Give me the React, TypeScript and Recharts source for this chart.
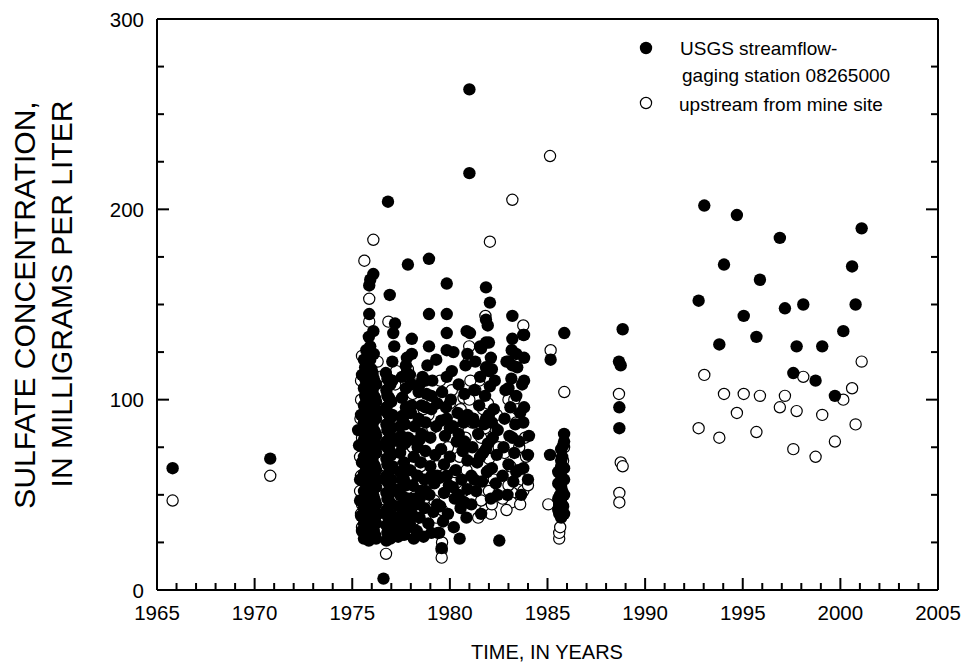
import React from 'react';
import { ScatterChart, Scatter, XAxis, YAxis, Legend } from 'recharts';

// ---- tick labels ----
const yearTicks = [1965, 1966, 1967, 1968, 1969, 1970, 1971, 1972, 1973, 1974, 1975, 1976, 1977, 1978, 1979, 1980, 1981, 1982, 1983, 1984, 1985, 1986, 1987, 1988, 1989, 1990, 1991, 1992, 1993, 1994, 1995, 1996, 1997, 1998, 1999, 2000, 2001, 2002, 2003, 2004, 2005];
const sulfateTicks = [0, 25, 50, 75, 100, 125, 150, 175, 200, 225, 250, 275, 300];

// ---- USGS streamflow-gaging station 08265000 (filled) : [year, mg/L] ----
const gaugeEarly = [[1965.8, 64], [1970.8, 69]];
const gauge1975 = [
  [1975.3, 84], [1975.35, 76], [1975.4, 58], [1975.4, 47], [1975.45, 39], [1975.45, 92], [1975.5, 31], [1975.5, 67], [1975.5, 113],
  [1975.6, 27], [1975.6, 35], [1975.6, 43], [1975.6, 52], [1975.6, 61], [1975.6, 70], [1975.6, 79], [1975.6, 88], [1975.6, 97], [1975.6, 106], [1975.6, 121],
  [1975.72, 29], [1975.72, 38], [1975.72, 46], [1975.72, 55], [1975.72, 64], [1975.72, 73], [1975.72, 82], [1975.72, 91], [1975.72, 100], [1975.72, 109], [1975.72, 118], [1975.72, 126],
  [1975.85, 26], [1975.85, 33], [1975.85, 41], [1975.85, 50], [1975.85, 59], [1975.85, 68], [1975.85, 77], [1975.85, 86], [1975.85, 95], [1975.85, 103], [1975.85, 112], [1975.85, 133], [1975.87, 145], [1975.87, 160],
  [1975.98, 28], [1975.98, 36], [1975.98, 44], [1975.98, 53], [1975.98, 62], [1975.98, 71], [1975.98, 80], [1975.98, 89], [1975.98, 98], [1975.98, 107], [1975.98, 116], [1975.92, 163], [1976.08, 166], [1976.08, 136],
  [1976.1, 31], [1976.1, 40], [1976.1, 49], [1976.1, 57], [1976.1, 66], [1976.1, 75], [1976.1, 84], [1976.1, 93], [1976.1, 102], [1976.1, 111], [1976.1, 124],
  [1976.22, 27], [1976.22, 35], [1976.22, 45], [1976.22, 54], [1976.22, 63], [1976.22, 72], [1976.22, 81], [1976.22, 90], [1976.22, 99], [1976.22, 108],
];
const gauge1975b = [
  [1975.66, 31], [1975.66, 40], [1975.66, 48], [1975.66, 57], [1975.66, 66], [1975.66, 75], [1975.66, 84], [1975.66, 93], [1975.66, 102], [1975.66, 111], [1975.66, 117],
  [1975.79, 27], [1975.79, 36], [1975.79, 45], [1975.79, 54], [1975.79, 63], [1975.79, 72], [1975.79, 81], [1975.79, 90], [1975.79, 99], [1975.79, 108], [1975.79, 120],
  [1975.92, 30], [1975.92, 39], [1975.92, 48], [1975.92, 57], [1975.92, 66], [1975.92, 75], [1975.92, 84], [1975.92, 93], [1975.92, 101], [1975.92, 110], [1975.92, 121], [1975.92, 128],
  [1976.04, 33], [1976.04, 42], [1976.04, 51], [1976.04, 60], [1976.04, 69], [1976.04, 78], [1976.04, 87], [1976.04, 96], [1976.04, 105], [1976.04, 114],
  [1976.16, 29], [1976.16, 38], [1976.16, 47], [1976.16, 56], [1976.16, 65], [1976.16, 74], [1976.16, 83], [1976.16, 92], [1976.16, 101], [1976.16, 109],
  [1976.3, 40], [1976.3, 58], [1976.3, 76], [1976.3, 94],
];
const gauge1976 = [
  [1976.6, 6], [1976.75, 26], [1976.75, 34], [1976.75, 42], [1976.75, 51], [1976.75, 60], [1976.75, 69], [1976.75, 78], [1976.75, 87], [1976.75, 96], [1976.75, 105], [1976.72, 114],
  [1976.88, 29], [1976.88, 38], [1976.88, 47], [1976.88, 56], [1976.88, 65], [1976.88, 74], [1976.88, 83], [1976.88, 92], [1976.88, 101], [1976.88, 110], [1976.83, 204], [1976.92, 155],
  [1977.0, 32], [1977.0, 45], [1977.0, 58], [1977.0, 71], [1977.0, 85], [1977.0, 99], [1977.1, 135], [1977.19, 140], [1977.15, 128],
  [1976.8, 30], [1976.8, 39], [1976.8, 48], [1976.8, 57], [1976.8, 66], [1976.8, 75], [1976.8, 84], [1976.8, 93], [1976.8, 102], [1976.8, 111],
  [1976.95, 27], [1976.95, 36], [1976.95, 45], [1976.95, 54], [1976.95, 63], [1976.95, 72], [1976.95, 81], [1976.95, 90], [1976.95, 99], [1976.95, 108],
  [1977.05, 39], [1977.05, 52], [1977.05, 65], [1977.05, 78], [1977.05, 92], [1977.05, 110], [1977.05, 120],
];
const gauge1977 = [
  [1977.35, 28], [1977.35, 36], [1977.4, 44], [1977.4, 53], [1977.45, 62], [1977.45, 72], [1977.5, 81], [1977.5, 91], [1977.55, 101], [1977.55, 30],
  [1977.6, 40], [1977.6, 49], [1977.65, 58], [1977.65, 67], [1977.7, 77], [1977.7, 87], [1977.75, 96], [1977.75, 106], [1977.8, 114], [1977.8, 122],
  [1977.85, 171], [1977.9, 33], [1977.9, 48], [1977.95, 63], [1977.95, 79], [1978.0, 93], [1978.0, 108], [1978.05, 124], [1978.05, 132], [1978.1, 55], [1978.15, 70], [1978.2, 86], [1978.15, 27],
  [1977.45, 34], [1977.45, 50], [1977.45, 86], [1977.55, 58], [1977.55, 76], [1977.55, 112],
  [1977.65, 29], [1977.65, 92], [1977.75, 38], [1977.75, 55], [1977.75, 118],
  [1977.85, 44], [1977.85, 80], [1977.95, 35], [1977.95, 113],
  [1978.05, 40], [1978.05, 97], [1978.15, 48],
];
const gauge1978 = [
  [1978.3, 31], [1978.3, 45], [1978.35, 60], [1978.35, 75], [1978.4, 90], [1978.4, 104], [1978.45, 38], [1978.5, 52], [1978.5, 67], [1978.55, 82], [1978.55, 97], [1978.6, 112],
  [1978.65, 28], [1978.7, 43], [1978.7, 58], [1978.75, 73], [1978.75, 88], [1978.8, 103], [1978.85, 118], [1978.93, 128], [1978.93, 145], [1978.93, 174],
  [1978.9, 35], [1978.95, 50], [1979.0, 65], [1979.0, 80], [1979.05, 95], [1979.1, 110], [1979.15, 41], [1979.2, 56], [1979.25, 71], [1979.3, 86], [1979.3, 121],
  [1978.45, 48], [1978.45, 79], [1978.45, 108],
  [1978.75, 52], [1978.75, 96], [1978.75, 110],
  [1979.05, 30], [1979.05, 60], [1979.05, 102],
  [1979.35, 45], [1979.35, 60], [1979.35, 98],
];
const gauge1979 = [
  [1979.45, 30], [1979.5, 44], [1979.5, 59], [1979.55, 74], [1979.55, 89], [1979.58, 22], [1979.6, 104], [1979.65, 36], [1979.7, 51], [1979.7, 66], [1979.75, 81], [1979.8, 96],
  [1979.84, 112], [1979.84, 126], [1979.84, 161], [1979.9, 40], [1979.95, 55], [1980.0, 70], [1980.0, 85], [1980.05, 100], [1980.1, 115], [1980.18, 125],
  [1980.2, 33], [1980.25, 48], [1980.3, 63], [1980.35, 78], [1980.4, 93], [1980.45, 108], [1980.5, 27], [1980.55, 43], [1980.6, 58], [1980.65, 73], [1980.7, 88],
  [1980.75, 103], [1980.8, 118], [1980.86, 136], [1980.85, 38], [1980.9, 53], [1980.9, 68],
  [1979.84, 60], [1979.84, 90], [1979.84, 135], [1979.84, 145],
  [1980.15, 54], [1980.15, 86],
  [1980.45, 50], [1980.45, 82],
  [1980.75, 46], [1980.75, 78],
  [1980.9, 92], [1980.9, 124],
];
const gauge1981 = [
  [1981.0, 263], [1981.0, 219], [1981.03, 135], [1981.1, 45], [1981.1, 60], [1981.15, 75], [1981.2, 90], [1981.25, 105], [1981.3, 120], [1981.35, 52], [1981.4, 67],
  [1981.45, 82], [1981.5, 97], [1981.55, 112], [1981.6, 127], [1981.6, 40], [1981.65, 57], [1981.7, 72], [1981.75, 87], [1981.8, 102], [1981.85, 117], [1981.85, 159],
  [1981.94, 139], [1982.05, 151], [1981.9, 62], [1981.95, 77], [1982.0, 92], [1982.05, 107], [1982.1, 122], [1982.1, 48], [1982.15, 64], [1982.2, 80], [1982.25, 95],
  [1982.3, 110], [1982.35, 56], [1982.4, 71], [1982.53, 26],
  [1981.25, 58], [1981.25, 88],
  [1981.55, 70], [1981.55, 128],
  [1981.85, 74], [1981.85, 90], [1981.85, 130], [1981.85, 142],
  [1982.0, 115], [1982.0, 130],
  [1982.15, 88], [1982.15, 116],
  [1982.45, 50], [1982.45, 84],
];
const gauge1983 = [
  [1982.7, 60], [1982.75, 75], [1982.8, 90], [1982.85, 105], [1982.9, 120], [1982.95, 50], [1983.0, 66], [1983.05, 81], [1983.1, 96], [1983.15, 111], [1983.17, 126],
  [1983.2, 144], [1983.25, 57], [1983.3, 72], [1983.35, 87], [1983.4, 102], [1983.45, 117], [1983.5, 63], [1983.55, 78], [1983.6, 93], [1983.76, 134], [1983.8, 134],
  [1983.76, 88], [1983.76, 64], [1983.7, 108], [1983.65, 50], [1984.0, 71], [1984.05, 81],
  [1983.0, 106], [1983.0, 120],
  [1983.2, 80], [1983.2, 118], [1983.2, 132],
  [1983.4, 62], [1983.4, 124],
  [1983.8, 96], [1983.8, 110], [1983.8, 122],
  [1984.0, 58],
];
const gauge1985 = [
  [1985.16, 121], [1985.13, 71], [1985.86, 135], [1985.6, 40], [1985.6, 45], [1985.65, 50], [1985.65, 55], [1985.7, 60], [1985.7, 65], [1985.75, 70], [1985.8, 76],
  [1985.85, 82], [1985.8, 44], [1985.75, 52], [1985.55, 42], [1985.55, 48], [1985.55, 56], [1985.55, 62], [1985.7, 38], [1985.7, 46], [1985.7, 54], [1985.7, 68], [1985.7, 74],
  [1985.85, 40], [1985.85, 50], [1985.85, 58], [1985.85, 64], [1985.85, 78],
];
const gauge1988 = [[1988.85, 137], [1988.66, 120], [1988.75, 118], [1988.68, 96], [1988.68, 85]];
const gaugeLate = [
  [1992.74, 152], [1993.03, 202], [1993.8, 129], [1994.04, 171], [1994.7, 197], [1995.05, 144], [1995.7, 133], [1995.88, 163], [1996.9, 185], [1997.16, 148],
  [1997.59, 114], [1997.76, 128], [1998.1, 150], [1998.73, 110], [1999.07, 128], [1999.72, 102], [2000.15, 136], [2000.6, 170], [2000.78, 150], [2001.09, 190],
];

// ---- upstream from mine site (open) : [year, mg/L] ----
const upstreamEarly = [[1965.8, 47], [1970.8, 60]];
const upstream1975 = [
  [1975.62, 173], [1975.87, 153], [1975.87, 141], [1976.08, 184], [1975.5, 123], [1975.5, 80], [1975.5, 33], [1975.45, 100], [1975.45, 60], [1975.5, 45],
  [1976.85, 141], [1976.73, 19], [1976.4, 112], [1976.6, 95], [1976.5, 42], [1977.0, 36], [1977.2, 50], [1977.25, 70], [1977.3, 90], [1977.2, 108], [1977.25, 115],
  [1975.4, 52], [1975.4, 70], [1975.42, 90], [1975.45, 110], [1975.45, 40], [1976.3, 120], [1976.45, 80], [1976.45, 60],
];
const upstream1977 = [
  [1977.6, 34], [1977.7, 45], [1977.8, 58], [1977.85, 116], [1978.0, 78], [1978.1, 103], [1978.1, 75], [1978.2, 49], [1978.2, 37], [1978.5, 65], [1978.6, 84],
  [1978.8, 55], [1979.1, 100], [1979.2, 47], [1979.3, 38], [1978.9, 92],
  [1977.4, 40], [1977.5, 55], [1977.55, 65], [1978.0, 43], [1978.1, 88], [1978.3, 108], [1978.4, 57], [1978.65, 95], [1978.7, 48], [1979.0, 70], [1979.1, 85],
  [1979.35, 65], [1979.4, 30], [1979.5, 110],
];
const upstream1979 = [
  [1979.58, 21], [1979.58, 17], [1979.6, 25], [1980.99, 128], [1980.95, 120], [1980.7, 101], [1980.8, 80], [1980.85, 63], [1980.1, 57], [1979.6, 42], [1980.3, 50],
  [1980.5, 70], [1980.2, 88], [1979.9, 75], [1979.9, 52], [1980.0, 98], [1980.1, 105], [1980.25, 62], [1980.4, 85], [1980.55, 95], [1980.6, 45], [1980.7, 52],
];
const upstream1981 = [
  [1982.05, 183], [1981.82, 144], [1981.5, 110], [1982.0, 69], [1982.0, 63], [1982.0, 52], [1981.8, 42], [1981.6, 47], [1981.3, 55], [1981.2, 72], [1982.3, 85], [1981.7, 95],
  [1981.0, 100], [1981.05, 110], [1981.15, 88], [1981.3, 105], [1981.45, 38], [1981.6, 80], [1981.8, 85], [1981.95, 98], [1982.1, 40], [1982.15, 45], [1982.25, 58],
  [1982.4, 92], [1982.5, 75],
];
const upstream1983 = [
  [1983.2, 205], [1983.76, 139], [1983.2, 51], [1983.15, 46], [1983.55, 75], [1983.2, 61], [1983.76, 52], [1982.9, 42], [1983.4, 88], [1983.0, 100],
  [1982.7, 48], [1982.8, 72], [1983.0, 55], [1983.1, 65], [1983.3, 100], [1983.45, 95], [1983.6, 45], [1983.7, 58], [1983.9, 70], [1984.0, 55], [1983.85, 80],
];
const upstream1985 = [
  [1985.13, 228], [1985.16, 126], [1985.86, 104], [1985.04, 45], [1985.6, 27], [1985.6, 30], [1985.65, 33], [1985.7, 42], [1985.75, 58], [1985.8, 68], [1985.85, 75],
];
const upstream1988 = [[1988.66, 103], [1988.75, 67], [1988.85, 65], [1988.68, 51], [1988.68, 46]];
const upstreamLate = [
  [1992.74, 85], [1993.03, 113], [1993.8, 80], [1994.04, 103], [1994.7, 93], [1995.05, 103], [1995.7, 83], [1995.88, 102], [1996.9, 96], [1997.16, 102],
  [1997.59, 74], [1997.76, 94], [1998.1, 112], [1998.73, 70], [1999.07, 92], [1999.72, 78], [2000.15, 100], [2000.6, 106], [2000.78, 87], [2001.09, 120],
];

const toPoints = (arrs: number[][][]) => arrs.flat().map(([x, y]) => ({ x, y }));
const gaugeData = toPoints([gaugeEarly, gauge1975, gauge1975b, gauge1976, gauge1977, gauge1978, gauge1979, gauge1981, gauge1983, gauge1985, gauge1988, gaugeLate]);
const upstreamData = toPoints([upstreamEarly, upstream1975, upstream1977, upstream1979, upstream1981, upstream1983, upstream1985, upstream1988, upstreamLate]);

const FONT = '"Liberation Sans", Arial, sans-serif';
const R = 6.2;

const FilledDot = (p: any) => <circle cx={p.cx} cy={p.cy} r={R} fill="#000" stroke="none" />;
const OpenDot = (p: any) => <circle cx={p.cx} cy={p.cy} r={R - 0.6} fill="#fff" stroke="#000" strokeWidth={1.2} />;

const BottomTick = (p: any) => {
  const v = p.payload.value;
  const major = v % 5 === 0;
  return (
    <g>
      <line x1={p.x} x2={p.x} y1={p.y} y2={p.y - (major ? 12 : 7)} stroke="#000" strokeWidth={2} />
      {major && (
        <text x={p.x} y={p.y + 30} textAnchor="middle" fontSize={20.5} fontFamily={FONT} fill="#000">{v}</text>
      )}
    </g>
  );
};
const TopTick = (p: any) => {
  const major = p.payload.value % 5 === 0;
  return <line x1={p.x} x2={p.x} y1={p.y} y2={p.y + (major ? 12 : 7)} stroke="#000" strokeWidth={2} />;
};
const LeftTick = (p: any) => {
  const v = p.payload.value;
  const major = v % 100 === 0;
  return (
    <g>
      <line x1={p.x} x2={p.x + (major ? 12 : 7)} y1={p.y} y2={p.y} stroke="#000" strokeWidth={2} />
      {major && (
        <text x={p.x - 13} y={p.y + 7.5} textAnchor="end" fontSize={20.5} fontFamily={FONT} fill="#000">{v}</text>
      )}
    </g>
  );
};
const RightTick = (p: any) => {
  const major = p.payload.value % 100 === 0;
  return <line x1={p.x} x2={p.x - (major ? 12 : 7)} y1={p.y} y2={p.y} stroke="#000" strokeWidth={2} />;
};

const XTitle = () => (
  <text x={547} y={659} textAnchor="middle" fontSize={20} fontFamily={FONT} fill="#000">TIME, IN YEARS</text>
);
const YTitle = () => (
  <g fontFamily={FONT} fontSize={30} fill="#000">
    <text x={35} y={305} transform="rotate(-90 35 305)" textAnchor="middle">SULFATE CONCENTRATION,</text>
    <text x={72} y={294} transform="rotate(-90 72 294)" textAnchor="middle">IN MILLIGRAMS PER LITER</text>
  </g>
);

const LegendBox = () => (
  <svg width={320} height={100} style={{ display: 'block' }}>
    <g fontFamily={FONT} fontSize={19} fill="#000">
      <circle cx={16} cy={20} r={R} fill="#000" />
      <text x={50} y={27}>USGS streamflow-</text>
      <text x={52} y={54}>gaging station 08265000</text>
      <circle cx={16} cy={75} r={R - 0.6} fill="#fff" stroke="#000" strokeWidth={1.2} />
      <text x={49} y={82.5}>upstream from mine site</text>
    </g>
  </svg>
);

export default function App() {
  return (
    <div style={{ position: 'absolute', left: 0, top: 0, width: 964, height: 670, background: '#fff' }}>
      <ScatterChart width={964} height={670} margin={{ top: 9, right: 16, bottom: 40, left: 97 }}>
        <XAxis
          xAxisId="bottom"
          dataKey="x"
          type="number"
          domain={[1965, 2005]}
          allowDataOverflow
          ticks={yearTicks}
          interval={0}
          height={40}
          tickSize={0}
          tickMargin={0}
          axisLine={{ stroke: '#000', strokeWidth: 2 }}
          tickLine={false}
          tick={<BottomTick />}
          label={<XTitle />}
        />
        <XAxis
          xAxisId="top"
          orientation="top"
          type="number"
          domain={[1965, 2005]}
          allowDataOverflow
          ticks={yearTicks}
          interval={0}
          height={10}
          tickSize={0}
          tickMargin={0}
          axisLine={{ stroke: '#000', strokeWidth: 2 }}
          tickLine={false}
          tick={<TopTick />}
        />
        <YAxis
          yAxisId="left"
          dataKey="y"
          type="number"
          domain={[0, 300]}
          allowDataOverflow
          ticks={sulfateTicks}
          interval={0}
          width={60}
          tickSize={0}
          tickMargin={0}
          axisLine={{ stroke: '#000', strokeWidth: 2 }}
          tickLine={false}
          tick={<LeftTick />}
          label={<YTitle />}
        />
        <YAxis
          yAxisId="right"
          orientation="right"
          type="number"
          domain={[0, 300]}
          allowDataOverflow
          ticks={sulfateTicks}
          interval={0}
          width={10}
          tickSize={0}
          tickMargin={0}
          axisLine={{ stroke: '#000', strokeWidth: 2 }}
          tickLine={false}
          tick={<RightTick />}
        />
        <Legend
          layout="horizontal"
          verticalAlign="middle"
          align="center"
          content={() => <LegendBox />}
          wrapperStyle={{ left: 630, top: 28, width: 320, height: 100 }}
        />
        <Scatter
          name="upstream from mine site"
          data={upstreamData}
          xAxisId="bottom"
          yAxisId="left"
          shape={<OpenDot />}
          isAnimationActive={false}
        />
        <Scatter
          name="USGS streamflow-gaging station 08265000"
          data={gaugeData}
          xAxisId="bottom"
          yAxisId="left"
          shape={<FilledDot />}
          isAnimationActive={false}
        />
      </ScatterChart>
    </div>
  );
}
